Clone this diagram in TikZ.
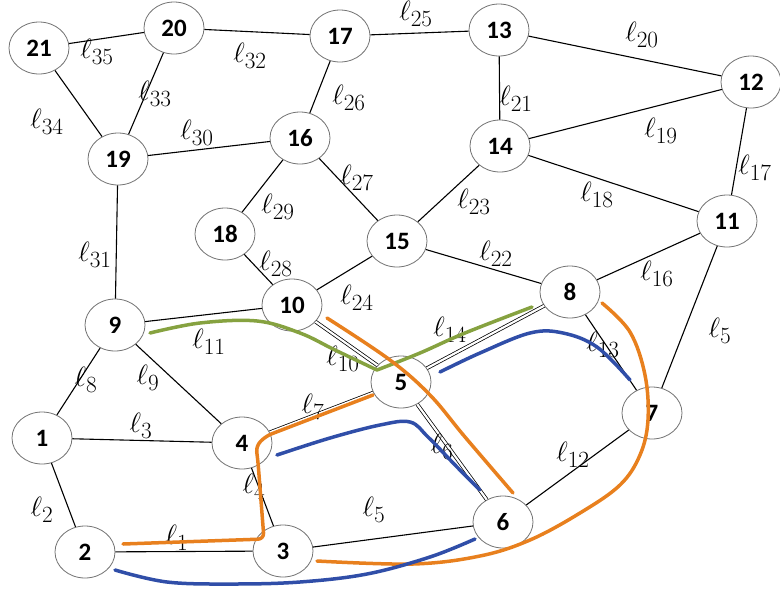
\documentclass[tikz,border=0pt]{standalone}
\usepackage{fontspec}
\setmainfont{Carlito}
\usetikzlibrary{shapes.geometric}
\definecolor{myorange}{RGB}{232,128,30}
\definecolor{myblue}{RGB}{48,78,168}
\definecolor{mygreen}{RGB}{134,162,64}
\newcommand\lbl[1]{\scalebox{1.12}{$\ell_{#1}$}}
\begin{document}
\begin{tikzpicture}[x=1pt,y=-1pt,
 vert/.style={ellipse,draw=black!55,line width=0.8pt,fill=white,minimum width=60pt,minimum height=52pt,inner sep=0pt,font=\fontsize{25}{27}\selectfont\bfseries},
 edge/.style={line width=1.1pt},
 dbl/.style={double=white,double distance=2.2pt,line width=0.75pt},
 lab/.style={font=\Huge,inner sep=0pt},
 stroke/.style={line width=3.5pt,line cap=round,line join=round},
]
\useasboundingbox (0,0) rectangle (780,590);
% vertices (named, used as connector ends)
\node[vert] (n21) at (39,48) {21};
\node[vert] (n20) at (174,28) {20};
\node[vert] (n17) at (340,36) {17};
\node[vert] (n13) at (499,30) {13};
\node[vert] (n12) at (751,82) {12};
\node[vert] (n16) at (300,138) {16};
\node[vert] (n19) at (118,159) {19};
\node[vert] (n14) at (500,146) {14};
\node[vert] (n11) at (727,221) {11};
\node[vert] (n18) at (225,234) {18};
\node[vert] (n15) at (397,241) {15};
\node[vert] (n10) at (292,305) {10};
\node[vert] (n8) at (570,292) {8};
\node[vert] (n9) at (115,325) {9};
\node[vert] (n5) at (401,382) {5};
\node[vert] (n7) at (652,413) {7};
\node[vert] (n1) at (42,438) {1};
\node[vert] (n4) at (242,443) {4};
\node[vert] (n6) at (503,522) {6};
\node[vert] (n2) at (85,552) {2};
\node[vert] (n3) at (283,551) {3};
% edges
\draw[edge] (n21)--(n20);
\draw[edge] (n21)--(n19);
\draw[edge] (n20)--(n19);
\draw[edge] (n20)--(n17);
\draw[edge] (n17)--(n13);
\draw[edge] (n17)--(n16);
\draw[edge] (n13)--(n12);
\draw[edge] (n13)--(n14);
\draw[edge] (n14)--(n12);
\draw[edge] (n12)--(n11);
\draw[edge] (n19)--(n16);
\draw[edge] (n19)--(n9);
\draw[edge] (n16)--(n18);
\draw[edge] (n16)--(n15);
\draw[edge] (n14)--(n15);
\draw[edge] (n14)--(n11);
\draw[edge] (n18)--(n10);
\draw[edge] (n15)--(n10);
\draw[edge] (n15)--(n8);
\draw[edge] (n11)--(n8);
\draw[edge] (n11)--(n7);
\draw[edge] (n9)--(n10);
\draw[dbl] (n10)--(n5);
\draw[dbl] (n5)--(n8);
\draw[edge] (n8)--(n7);
\draw[edge] (n9)--(n1);
\draw[edge] (n9)--(n4);
\draw[edge] (n1)--(n4);
\draw[dbl] (n4)--(n5);
\draw[dbl] (n5)--(n6);
\draw[edge] (n7)--(n6);
\draw[edge] (n1)--(n2);
\draw[edge] (n4)--(n3);
\draw[edge] (n3)--(n6);
\draw[edge] (n2)--(n3);
% labels
\node[lab] (L35) at (97,52) {\lbl{35}};
\node[lab] (L32) at (250,56) {\lbl{32}};
\node[lab] (L33) at (155,94) {\lbl{33}};
\node[lab] (L26) at (349,98) {\lbl{26}};
\node[lab] (L34) at (47,122) {\lbl{34}};
\node[lab] (L30) at (197,133) {\lbl{30}};
\node[lab] (L27) at (357,178) {\lbl{27}};
\node[lab] (L25) at (416,14) {\lbl{25}};
\node[lab] (L20) at (642,35) {\lbl{20}};
\node[lab] (L21) at (516,99) {\lbl{21}};
\node[lab] (L19) at (661,131) {\lbl{19}};
\node[lab] (L17) at (755,168) {\lbl{17}};
\node[lab] (L29) at (278,207) {\lbl{29}};
\node[lab] (L31) at (95,255) {\lbl{31}};
\node[lab] (L28) at (276,264) {\lbl{28}};
\node[lab] (L24) at (357,298) {\lbl{24}};
\node[lab] (L11) at (209,342) {\lbl{11}};
\node[lab] (L10) at (343,359) {\lbl{10}};
\node[lab] (L8) at (86,380) {\lbl{8}};
\node[lab] (L9) at (148,378) {\lbl{9}};
\node[lab] (L23) at (474,202) {\lbl{23}};
\node[lab] (L18) at (597,195) {\lbl{18}};
\node[lab] (L22) at (496,254) {\lbl{22}};
\node[lab] (L16) at (657,274) {\lbl{16}};
\node[lab] (L5r) at (720,331) {\lbl{5}};
\node[lab] (L14) at (450,330) {\lbl{14}};
\node[lab] (L13) at (603,345) {\lbl{13}};
\node[lab] (L7) at (313,407) {\lbl{7}};
\node[lab] (L6) at (442,447) {\lbl{6}};
\node[lab] (L12) at (573,455) {\lbl{12}};
\node[lab] (L3) at (141,426) {\lbl{3}};
\node[lab] (L2) at (42,510) {\lbl{2}};
\node[lab] (L4) at (254,487) {\lbl{4}};
\node[lab] (L5) at (374,510) {\lbl{5}};
\node[lab] (L1) at (177,538) {\lbl{1}};
% coloured strokes
\draw[stroke,mygreen] plot[smooth,tension=0.6] coordinates {(150,333) (200,323) (257,321) (300,333) (335,350) (377,370)}
  -- plot[smooth,tension=0.6] coordinates {(377,370) (420,353) (465,333) (532,307)};
\draw[stroke,myorange,rounded corners=6pt] (123,544) -- (264,539) -- (258,462) -- (256,446) -- (266,436) -- (373,395);
\draw[stroke,myorange] plot[smooth,tension=0.6] coordinates {(327,318) (390,360) (430,395) (465,437) (513,493)};
\draw[stroke,myorange] plot[smooth,tension=0.6] coordinates {(602,303) (630,332) (645,375) (648,420) (640,455) (620,485) (580,513) (530,540) (480,556) (413,564) (317,561)};
\draw[stroke,myblue] plot[smooth,tension=0.6] coordinates {(440,372) (480,353) (530,333) (563,333) (597,347) (630,380)};
\draw[stroke,myblue] plot[smooth,tension=0.6] coordinates {(277,455) (330,438) (380,425) (410,422) (428,437) (457,467) (480,490)};
\draw[stroke,myblue] plot[smooth,tension=0.6] coordinates {(115,570) (167,582) (233,584) (300,582) (367,574) (430,557) (475,539)};
\end{tikzpicture}
\end{document}
